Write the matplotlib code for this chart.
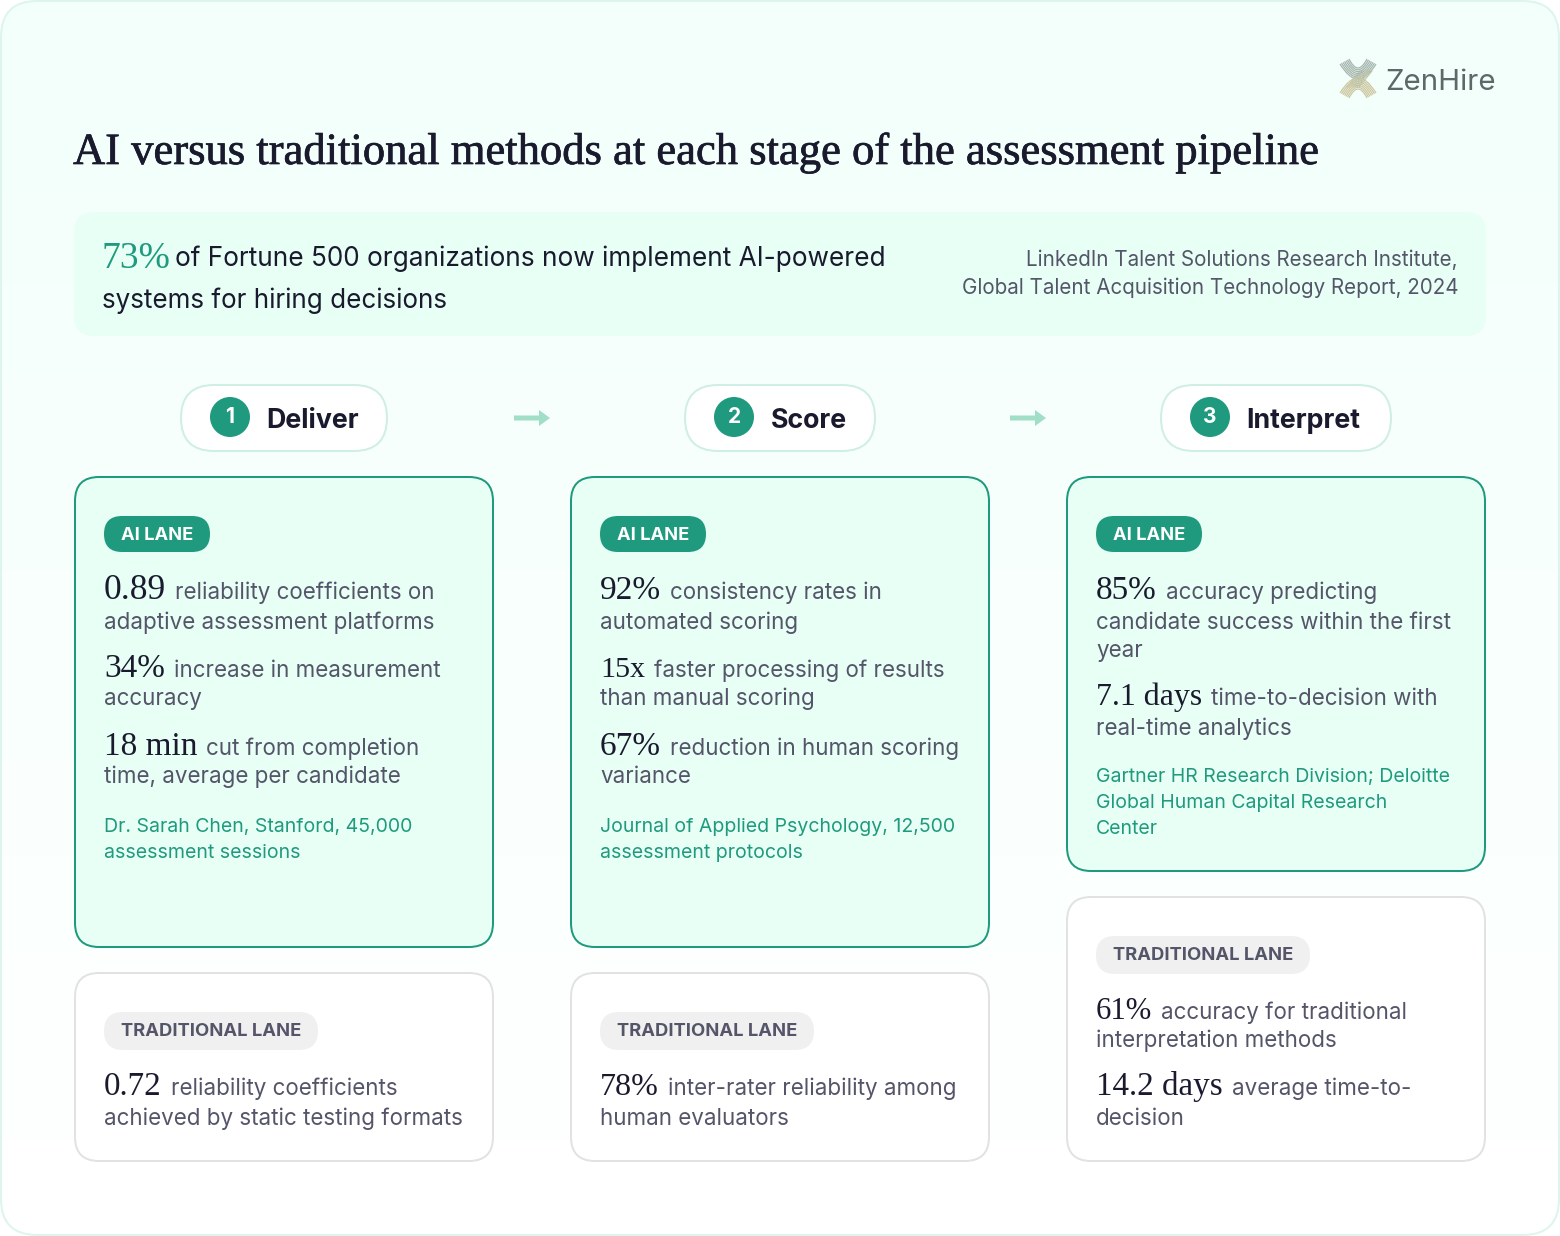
import numpy as np
import matplotlib
matplotlib.use("Agg")
import matplotlib.pyplot as plt
from matplotlib.patches import FancyBboxPatch, Circle, Polygon, PathPatch
from matplotlib.path import Path
import matplotlib.patheffects as pe

TITLE = "AI versus traditional methods at each stage of the assessment pipeline"
BRAND = "ZenHire"
STAT_LEAD = "73%"
STAT_LINES = ["of Fortune 500 organizations now implement AI-powered", "systems for hiring decisions"]
STAT_SOURCE = ["LinkedIn Talent Solutions Research Institute,", "Global Talent Acquisition Technology Report, 2024"]
STAGES = ["Deliver", "Score", "Interpret"]
AI_LABEL = "AI LANE"
TRAD_LABEL = "TRADITIONAL LANE"

AI_ITEMS = [
    [("0.89", ["reliability coefficients on", "adaptive assessment platforms"]),
     ("34%", ["increase in measurement", "accuracy"]),
     ("18 min", ["cut from completion", "time, average per candidate"])],
    [("92%", ["consistency rates in", "automated scoring"]),
     ("15x", ["faster processing of results", "than manual scoring"]),
     ("67%", ["reduction in human scoring", "variance"])],
    [("85%", ["accuracy predicting", "candidate success within the first", "year"]),
     ("7.1 days", ["time-to-decision with", "real-time analytics"])],
]
AI_SOURCES = [
    ["Dr. Sarah Chen, Stanford, 45,000", "assessment sessions"],
    ["Journal of Applied Psychology, 12,500", "assessment protocols"],
    ["Gartner HR Research Division; Deloitte", "Global Human Capital Research", "Center"],
]
TRAD_ITEMS = [
    [("0.72", ["reliability coefficients", "achieved by static testing formats"])],
    [("78%", ["inter-rater reliability among", "human evaluators"])],
    [("61%", ["accuracy for traditional", "interpretation methods"]),
     ("14.2 days", ["average time-to-", "decision"])],
]

# layout: rendered width of each lead figure, and where its line breaks tighter
LEAD_W = {"0.89": 62, "34%": 61, "18 min": 93, "92%": 61, "15x": 45, "67%": 61, "85%": 61,
          "7.1 days": 106, "0.72": 58, "78%": 59, "61%": 56, "14.2 days": 127}
TIGHT = {"34%", "18 min", "15x", "67%", "61%"}
SHORT_ADVANCE = {"61%"}

SANS = ["Inter", "Open Sans", "DejaVu Sans"]
SERIF = ["Liberation Serif", "DejaVu Serif"]
GREEN = "#1F9A7E"
INK = "#1A1A2E"
BODY = "#55556A"
MINT = "#E8FFF5"

fig = plt.figure(figsize=(15.6, 12.36), dpi=100, facecolor="white")
ax = fig.add_axes([0, 0, 1, 1])
ax.axis("off")
rend = fig.canvas.get_renderer()


def px(v):
    return v * 0.72


def box(x0, y0, x1, y1, r, fc, ec="none", lw=2, z=1):
    p = FancyBboxPatch((x0, y0), x1 - x0, y1 - y0, boxstyle=f"round,pad=0,rounding_size={r}",
                       fc=fc, ec=ec, lw=px(lw), zorder=z)
    ax.add_patch(p)
    return p


def put(x, y, s, size, color=BODY, family=SANS, weight="normal", ha="left", va="baseline", z=5):
    return ax.text(x, y, s, fontsize=px(size), color=color, family=family, weight=weight,
                   ha=ha, va=va, zorder=z)


def width(t):
    return t.get_window_extent(rend).width


ax.set_xlim(0, 1560)
ax.set_ylim(1236, 0)

# page
page = box(1, 1, 1559, 1235, 36, "none", "#DDF5EC", 2, z=2)
grad = np.linspace(0, 1, 256)[:, None, None] * np.array([[[13, 0, 4]]]) + np.array([[[242, 255, 251]]])
im = ax.imshow(grad.astype(np.uint8), extent=(0, 1560, 1236, 0), aspect="auto", zorder=0)
im.set_clip_path(page)
ax.set_xlim(0, 1560)
ax.set_ylim(1236, 0)

# logo mark
cx = 1358
for f in np.linspace(0, 1, 7):
    hw_t, y_t, y_m = 18 - 9 * f, 64 - 5 * f, 82 - 13 * f
    ax.add_patch(PathPatch(Path([(cx - hw_t, y_t), (cx - hw_t * .3, y_m + 2), (cx + hw_t * .3, y_m + 2), (cx + hw_t, y_t)],
                                [1, 4, 4, 4]), fc="none", ec="#A6B6AE", lw=0.9, zorder=3))
    y_b, y_n = 93 + 5 * f, 75 + 13 * f
    ax.add_patch(PathPatch(Path([(cx - hw_t, y_b), (cx - hw_t * .3, y_n - 2), (cx + hw_t * .3, y_n - 2), (cx + hw_t, y_b)],
                                [1, 4, 4, 4]), fc="none", ec="#CDC7A0", lw=0.9, zorder=3))
    d = f * 12
    ax.plot([1360 + d, 1347 + d], [71, 87], color="#BFC4A8", lw=0.8, zorder=3)
put(1385, 90, BRAND, 29.5, color="#5C6968")

# title
title = put(73, 164, TITLE, 44.6, color=INK, family=SERIF)
title.set_path_effects([pe.withStroke(linewidth=0.5, foreground=INK)])

# banner
box(74, 212, 1486, 336, 20, MINT)
put(102, 268, STAT_LEAD, 37.5, color=GREEN, family=SERIF)
put(175, 266, STAT_LINES[0], 26.2, color=INK)
put(102, 308, STAT_LINES[1], 26.0, color=INK)
put(1458, 266, STAT_SOURCE[0], 20.6, ha="right")
put(1458, 294, STAT_SOURCE[1], 20.6, ha="right")

# stage pills
pill_x = [(181, 387), (685, 875), (1161, 1391)]
for i, (stage, (a, b)) in enumerate(zip(STAGES, pill_x)):
    box(a, 385, b, 451, 33, "white", "#CFEFE4", 2, z=2)
    ax.add_patch(Circle((a + 49, 417), 20, fc=GREEN, ec="none", zorder=3))
    put(a + 49, 417, str(i + 1), 21, color="white", weight="bold", ha="center", va="center")
    put(a + 85.5, 428, stage, 26.8, color=INK, weight="bold")

for x in (514, 1010):
    ax.add_patch(Polygon([(x, 415.5), (x + 25, 415.5), (x + 25, 410), (x + 36, 418), (x + 25, 426),
                          (x + 25, 420.5), (x, 420.5)], fc="#A0DEC8", ec="none", zorder=3))


def items(x, y, rows):
    """Draw lead + wrapped text, return the baseline where the next lead would sit."""
    for num, lines in rows:
        t = put(x, y, num, 36, color=INK, family=SERIF)
        t.set_fontsize(t.get_fontsize() * LEAD_W[num] / width(t))
        put(x + LEAD_W[num] + 9, y, lines[0], 22.4, color=BODY)
        yy = y + (28 if num in TIGHT else 30)
        put(x, yy, lines[1], 22.4, color=BODY)
        for ln in lines[2:]:
            yy += 28
            put(x, yy, ln, 22.4, color=BODY)
        y += 78 + 28 * (len(lines) - 2) - (2 if num in SHORT_ADVANCE else 0)
    return y


card_x = [75, 571, 1067]
ai_bottom = [947, 947, 871]
trad_top = [973, 973, 897]
for i, x0 in enumerate(card_x):
    x1 = x0 + 418
    box(x0, 477, x1, ai_bottom[i], 24, MINT, GREEN, 2)
    box(x0 + 29, 516, x0 + 135, 552, 18, GREEN, z=3)
    put(x0 + 82, 534, AI_LABEL, 18.3, color="white", weight="bold", ha="center", va="center_baseline")
    y = items(x0 + 29, 599, AI_ITEMS[i]) - 1
    for j, ln in enumerate(AI_SOURCES[i]):
        put(x0 + 29, y + j * 26, ln, 19.5, color=GREEN)

    tt = trad_top[i]
    box(x0, tt, x1, 1161, 24, "white", "#E2E2E2", 2)
    box(x0 + 29, tt + 39, x0 + 243, tt + 77, 19, "#F0F0F0", z=3)
    put(x0 + 136, tt + 57, TRAD_LABEL, 18.4, color=BODY, weight="bold", ha="center", va="center_baseline")
    items(x0 + 29, tt + 122, TRAD_ITEMS[i])

fig.savefig("out.png", dpi=100, facecolor="white")
